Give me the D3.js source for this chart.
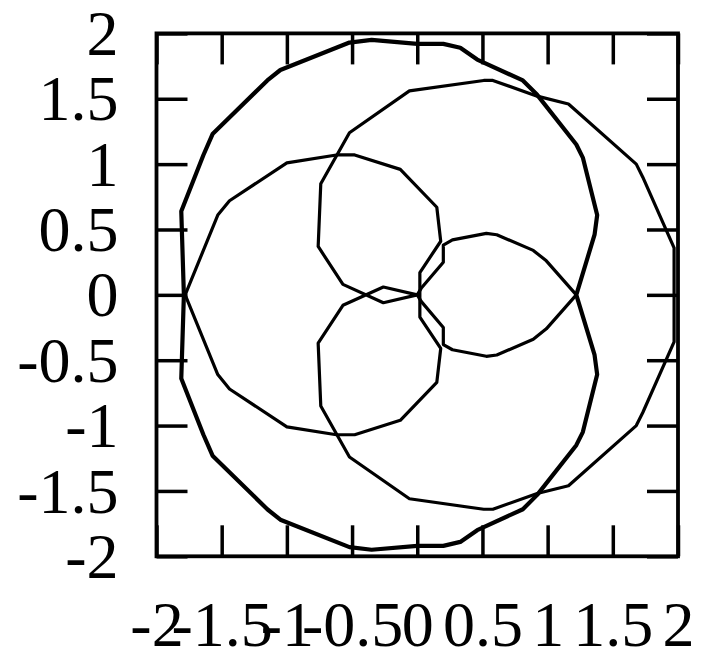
<!DOCTYPE html>
<html>
<head>
<meta charset="utf-8">
<script src="https://cdn.jsdelivr.net/npm/d3@7"></script>
<style>
  html, body { margin: 0; padding: 0; background: #fff; }
  svg { display: block; }
  .tick text { font-family: "Liberation Serif", "DejaVu Serif", serif; font-size: 64px; fill: #000; }
</style>
</head>
<body>
<svg id="chart" width="711" height="649"></svg>
<script>
// Tick values shared by both axes
const xTicks = [-2, -1.5, -1, -0.5, 0, 0.5, 1, 1.5, 2];
const yTicks = [-2, -1.5, -1, -0.5, 0, 0.5, 1, 1.5, 2];

// Outer loop (left-centred, widest)
const loopA = [
  [-1.79, 0], [-1.81, 0.64], [-1.64, 1.07], [-1.57, 1.23], [-1.15, 1.64], [-1.05, 1.72],
  [-0.52, 1.93], [-0.35, 1.95], [0, 1.92], [0.2, 1.92], [0.33, 1.89], [0.46, 1.8],
  [0.81, 1.64], [0.92, 1.53], [1.22, 1.15], [1.27, 1.05], [1.38, 0.61], [1.36, 0.46],
  [1.22, 0],
  [1.36, -0.46], [1.38, -0.61], [1.27, -1.05], [1.22, -1.15], [0.92, -1.53], [0.81, -1.64],
  [0.46, -1.8], [0.33, -1.89], [0.2, -1.92], [0, -1.92], [-0.35, -1.95], [-0.52, -1.93],
  [-1.05, -1.72], [-1.15, -1.64], [-1.57, -1.23], [-1.64, -1.07], [-1.81, -0.64], [-1.79, 0]
];

// Right-hand loop, closing through the origin via the two left lobes
const loopB = [
  [0, 0], [-0.26, -0.06], [-0.57, 0.08], [-0.76, 0.37], [-0.74, 0.85], [-0.52, 1.24],
  [-0.06, 1.56], [0.51, 1.64], [0.58, 1.64], [0.92, 1.52], [1.16, 1.46], [1.68, 1.0],
  [1.73, 0.9], [1.97, 0.36],
  [1.97, -0.36], [1.73, -0.9], [1.68, -1.0], [1.16, -1.46], [0.92, -1.52], [0.58, -1.64],
  [0.51, -1.64], [-0.06, -1.56], [-0.52, -1.24], [-0.74, -0.85], [-0.76, -0.37],
  [-0.57, -0.08], [-0.26, 0.06], [0, 0]
];

// Middle loop on the left, closing through the right sides of the left lobes
const loopC = [
  [-1.78, 0], [-1.53, 0.61], [-1.44, 0.72], [-1.0, 1.01], [-0.62, 1.07], [-0.48, 1.07],
  [-0.13, 0.96], [0.15, 0.67], [0.18, 0.41], [0.02, 0.17],
  [0.02, -0.17], [0.18, -0.41], [0.15, -0.67], [-0.13, -0.96], [-0.48, -1.07],
  [-0.62, -1.07], [-1.0, -1.01], [-1.44, -0.72], [-1.53, -0.61], [-1.78, 0]
];

// Small lobe on the right
const lobeR = [
  [0, 0], [0.03, 0.05], [0.2, 0.25], [0.2, 0.38], [0.27, 0.42], [0.53, 0.47], [0.61, 0.46],
  [0.89, 0.34], [0.99, 0.26], [1.22, 0],
  [0.99, -0.26], [0.89, -0.34], [0.61, -0.46], [0.53, -0.47], [0.27, -0.42], [0.2, -0.38],
  [0.2, -0.25], [0.03, -0.05], [0, 0]
];

const curves = [
  { pts: loopA, w: 4.2 },
  { pts: loopB, w: 3.2 },
  { pts: loopC, w: 3.2 },
  { pts: lobeR, w: 3.2 }
];

const svg = d3.select("#chart");
const frame = { left: 156.5, right: 678, top: 33.4, bottom: 556.3 };

const x = d3.scaleLinear().domain([-2, 2]).range([frame.left, frame.right]);
const y = d3.scaleLinear().domain([-2, 2]).range([frame.bottom, frame.top]);

const fmt = d => String(d);   // plain hyphen-minus labels
const tickLen = 31;

// Axes with inward ticks
const gBottom = svg.append("g").attr("transform", `translate(0,${frame.bottom})`)
  .call(d3.axisBottom(x).tickValues(xTicks).tickFormat(fmt).tickSize(-tickLen).tickSizeOuter(0));
const gLeft = svg.append("g").attr("transform", `translate(${frame.left},0)`)
  .call(d3.axisLeft(y).tickValues(yTicks).tickFormat(fmt).tickSize(-tickLen).tickSizeOuter(0).tickPadding(38));
const gTop = svg.append("g").attr("transform", `translate(0,${frame.top})`)
  .call(d3.axisTop(x).tickValues(xTicks).tickFormat("").tickSize(-tickLen).tickSizeOuter(0));
const gRight = svg.append("g").attr("transform", `translate(${frame.right},0)`)
  .call(d3.axisRight(y).tickValues(yTicks).tickFormat("").tickSize(-tickLen).tickSizeOuter(0));

[gBottom, gLeft, gTop, gRight].forEach(g => {
  g.select(".domain").remove();
  g.selectAll(".tick line").attr("stroke", "#000").attr("stroke-width", 3.5);
});

gBottom.selectAll(".tick text")
  .attr("y", 646 - frame.bottom).attr("dy", null)
  .attr("text-anchor", "middle");
gLeft.selectAll(".tick text")
  .attr("dy", "0.33em")
  .attr("text-anchor", "end");

// Plot frame
svg.append("rect")
  .attr("x", frame.left).attr("y", frame.top)
  .attr("width", frame.right - frame.left).attr("height", frame.bottom - frame.top)
  .attr("fill", "none").attr("stroke", "#000").attr("stroke-width", 3.8);

// Curves
const line = d3.line().x(d => x(d[0])).y(d => y(d[1]));
svg.append("g").selectAll("path")
  .data(curves)
  .join("path")
  .attr("d", d => line(d.pts))
  .attr("fill", "none")
  .attr("stroke", "#000")
  .attr("stroke-width", d => d.w)
  .attr("stroke-linejoin", "round")
  .attr("stroke-linecap", "round");
</script>
</body>
</html>
